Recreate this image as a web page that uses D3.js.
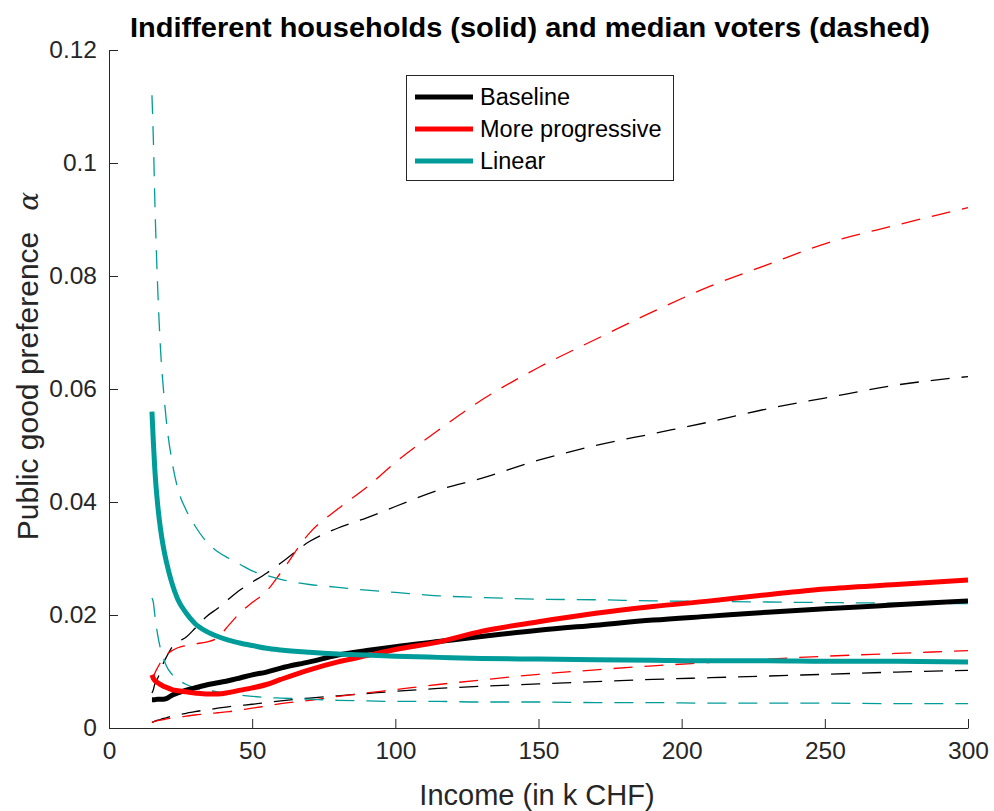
<!DOCTYPE html>
<html>
<head>
<meta charset="utf-8">
<script src="https://cdn.jsdelivr.net/npm/d3@7"></script>
<style>
  html, body { margin: 0; padding: 0; background: #fff; }
  svg { display: block; font-family: "Liberation Sans", Arial, Helvetica, sans-serif; }
</style>
</head>
<body>
<svg id="chart" width="994" height="811"></svg>
<script>
// ---------- data ----------
const income = [15, 15.5, 16, 17, 18, 19, 20, 22, 24, 27, 30, 34, 38, 42, 46, 50, 55, 60, 70, 80, 90, 100, 115, 130, 150, 170, 190, 210, 230, 250, 275, 300];

// Indifferent households (solid)
const baselineHH = [0.0050, 0.0050, 0.0050, 0.0051, 0.0051, 0.0051, 0.0052, 0.0058, 0.0062, 0.0067, 0.0071, 0.0076, 0.0080, 0.0084, 0.0089, 0.0094, 0.0099, 0.0106, 0.0117, 0.0129, 0.0137, 0.0144, 0.0153, 0.0162, 0.0173, 0.0182, 0.0191, 0.0198, 0.0205, 0.0211, 0.0218, 0.0225];
const progressiveHH = [0.0094, 0.0088, 0.0084, 0.0080, 0.0077, 0.0074, 0.0072, 0.0068, 0.0066, 0.0064, 0.0062, 0.0060, 0.0060, 0.0063, 0.0067, 0.0071, 0.0077, 0.0086, 0.0103, 0.0117, 0.0128, 0.0139, 0.0152, 0.0171, 0.0188, 0.0203, 0.0215, 0.0225, 0.0236, 0.0246, 0.0254, 0.0262];
const linearHH = [0.0560, 0.0505, 0.0458, 0.0395, 0.0352, 0.0320, 0.0295, 0.0256, 0.0228, 0.0203, 0.0185, 0.0171, 0.0162, 0.0155, 0.0150, 0.0146, 0.0141, 0.0138, 0.0134, 0.0131, 0.0129, 0.0127, 0.0125, 0.0123, 0.0122, 0.0121, 0.0120, 0.0119, 0.0119, 0.0118, 0.0118, 0.0117];

// Median voters (dashed), upper and lower
const baselineMVHigh = [0.0062, 0.0068, 0.0078, 0.0088, 0.0100, 0.0115, 0.0125, 0.0143, 0.0152, 0.0161, 0.0176, 0.0197, 0.0212, 0.0229, 0.0245, 0.0258, 0.0274, 0.0292, 0.0330, 0.0354, 0.0372, 0.0392, 0.0421, 0.0442, 0.0474, 0.0500, 0.0521, 0.0542, 0.0565, 0.0584, 0.0607, 0.0622];
const baselineMVLow = [0.0010, 0.0011, 0.0012, 0.0014, 0.0015, 0.0017, 0.0018, 0.0021, 0.0023, 0.0026, 0.0029, 0.0032, 0.0035, 0.0038, 0.0040, 0.0042, 0.0045, 0.0048, 0.0053, 0.0057, 0.0061, 0.0065, 0.0070, 0.0074, 0.0078, 0.0082, 0.0086, 0.0089, 0.0092, 0.0095, 0.0099, 0.0102];
const progressiveMVHigh = [0.0085, 0.0090, 0.0097, 0.0107, 0.0116, 0.0123, 0.0129, 0.0137, 0.0142, 0.0146, 0.0149, 0.0152, 0.0160, 0.0183, 0.0205, 0.0222, 0.0242, 0.0275, 0.0345, 0.0388, 0.0426, 0.0470, 0.0527, 0.0580, 0.0638, 0.0688, 0.0737, 0.0782, 0.0820, 0.0857, 0.0890, 0.0921];
const progressiveMVLow = [0.0010, 0.0011, 0.0012, 0.0013, 0.0014, 0.0015, 0.0016, 0.0018, 0.0019, 0.0021, 0.0023, 0.0025, 0.0027, 0.0029, 0.0032, 0.0035, 0.0039, 0.0043, 0.0049, 0.0056, 0.0062, 0.0068, 0.0077, 0.0085, 0.0095, 0.0103, 0.0110, 0.0116, 0.0122, 0.0127, 0.0132, 0.0137];
const linearMVHigh = [0.1120, 0.1040, 0.0935, 0.0780, 0.0670, 0.0600, 0.0545, 0.0472, 0.0424, 0.0385, 0.0358, 0.0330, 0.0312, 0.0300, 0.0289, 0.0278, 0.0270, 0.0263, 0.0254, 0.0249, 0.0244, 0.0240, 0.0234, 0.0231, 0.0228, 0.0227, 0.0225, 0.0224, 0.0223, 0.0222, 0.0221, 0.0220];
const linearMVLow = [0.0230, 0.0222, 0.0200, 0.0165, 0.0140, 0.0124, 0.0110, 0.0095, 0.0086, 0.0077, 0.0071, 0.0067, 0.0064, 0.0060, 0.0058, 0.0056, 0.0054, 0.0053, 0.0051, 0.0049, 0.0048, 0.0047, 0.0047, 0.0046, 0.0046, 0.0045, 0.0045, 0.0044, 0.0044, 0.0044, 0.0043, 0.0043];

const seriesNames = ["Baseline", "More progressive", "Linear"];
const seriesColors = ["#000000", "#ff0000", "#009c99"];

const xTicks = [0, 50, 100, 150, 200, 250, 300];
const xTickLabels = ["0", "50", "100", "150", "200", "250", "300"];
const yTicks = [0, 0.02, 0.04, 0.06, 0.08, 0.1, 0.12];
const yTickLabels = ["0", "0.02", "0.04", "0.06", "0.08", "0.1", "0.12"];

const titleText = "Indifferent households (solid) and median voters (dashed)";
const xLabel = "Income (in k CHF)";
const yLabel = "Public good preference";

// ---------- layout ----------
const svg = d3.select("#chart");
const L = 109, R = 968, T = 50, B = 728;
const axisColor = "#262626";

const x = d3.scaleLinear().domain([0, 300]).range([L, R]);
const y = d3.scaleLinear().domain([0, 0.12]).range([B, T]);

const line = d3.line()
  .x((d, i) => x(income[i]))
  .y(d => y(d))
  .curve(d3.curveMonotoneX);

// dashed lines
const dashed = [
  [baselineMVHigh, 0], [baselineMVLow, 0],
  [progressiveMVHigh, 1], [progressiveMVLow, 1],
  [linearMVHigh, 2], [linearMVLow, 2]
];
const gLines = svg.append("g");
dashed.forEach(([vals, k]) => {
  gLines.append("path")
    .attr("d", line(vals))
    .attr("fill", "none")
    .attr("stroke", seriesColors[k])
    .attr("stroke-width", 1.3)
    .attr("stroke-dasharray", "19,12");
});

// solid lines
const solid = [baselineHH, progressiveHH, linearHH];
solid.forEach((vals, k) => {
  gLines.append("path")
    .attr("d", line(vals))
    .attr("fill", "none")
    .attr("stroke", seriesColors[k])
    .attr("stroke-width", 5)
    .attr("stroke-linejoin", "round");
});

// axes
const xAxis = d3.axisBottom(x)
  .tickValues(xTicks)
  .tickFormat((d, i) => xTickLabels[i])
  .tickSizeInner(-9)
  .tickSizeOuter(0)
  .tickPadding(14);
const gx = svg.append("g").attr("transform", `translate(0,${B})`).call(xAxis);

const yAxis = d3.axisLeft(y)
  .tickValues(yTicks)
  .tickFormat((d, i) => yTickLabels[i])
  .tickSizeInner(-9)
  .tickSizeOuter(0)
  .tickPadding(12);
const gy = svg.append("g").attr("transform", `translate(${L},0)`).call(yAxis);

[gx, gy].forEach(g => {
  g.select(".domain").attr("stroke", axisColor).attr("stroke-width", 1);
  g.selectAll(".tick line").attr("stroke", axisColor).attr("stroke-width", 1);
  g.selectAll(".tick text")
    .attr("fill", axisColor)
    .style("font-size", "24.5px")
    .style("font-family", '"Liberation Sans", Arial, sans-serif');
});
gx.selectAll(".tick text").attr("dy", "0.71em");

// title
svg.append("text")
  .attr("x", 530)
  .attr("y", 37)
  .attr("text-anchor", "middle")
  .attr("textLength", 800)
  .attr("lengthAdjust", "spacingAndGlyphs")
  .style("font-size", "27px")
  .style("font-weight", "bold")
  .attr("fill", "#000")
  .text(titleText);

// x label
svg.append("text")
  .attr("x", 537)
  .attr("y", 805)
  .attr("text-anchor", "middle")
  .style("font-size", "29px")
  .attr("fill", axisColor)
  .text(xLabel);

// y label
const yl = svg.append("text")
  .attr("transform", "translate(38,366) rotate(-90)")
  .attr("text-anchor", "middle")
  .style("font-size", "30px")
  .attr("fill", axisColor);
yl.append("tspan").text(yLabel + "\u2002\u2009");
yl.append("tspan")
  .style("font-family", '"DejaVu Serif", "Liberation Serif", serif')
  .style("font-style", "italic")
  .style("font-size", "28px")
  .text("\u03b1");

// legend
const lg = svg.append("g");
lg.append("rect")
  .attr("x", 406.5).attr("y", 75.5)
  .attr("width", 267).attr("height", 105)
  .attr("fill", "#fff")
  .attr("stroke", axisColor)
  .attr("stroke-width", 1);
seriesNames.forEach((name, i) => {
  const yy = 97 + i * 32;
  lg.append("line")
    .attr("x1", 415).attr("x2", 473)
    .attr("y1", yy).attr("y2", yy)
    .attr("stroke", seriesColors[i])
    .attr("stroke-width", 5);
  lg.append("text")
    .attr("x", 480).attr("y", yy)
    .attr("dy", "0.35em")
    .style("font-size", "23.5px")
    .attr("fill", "#000")
    .text(name);
});
</script>
</body>
</html>
